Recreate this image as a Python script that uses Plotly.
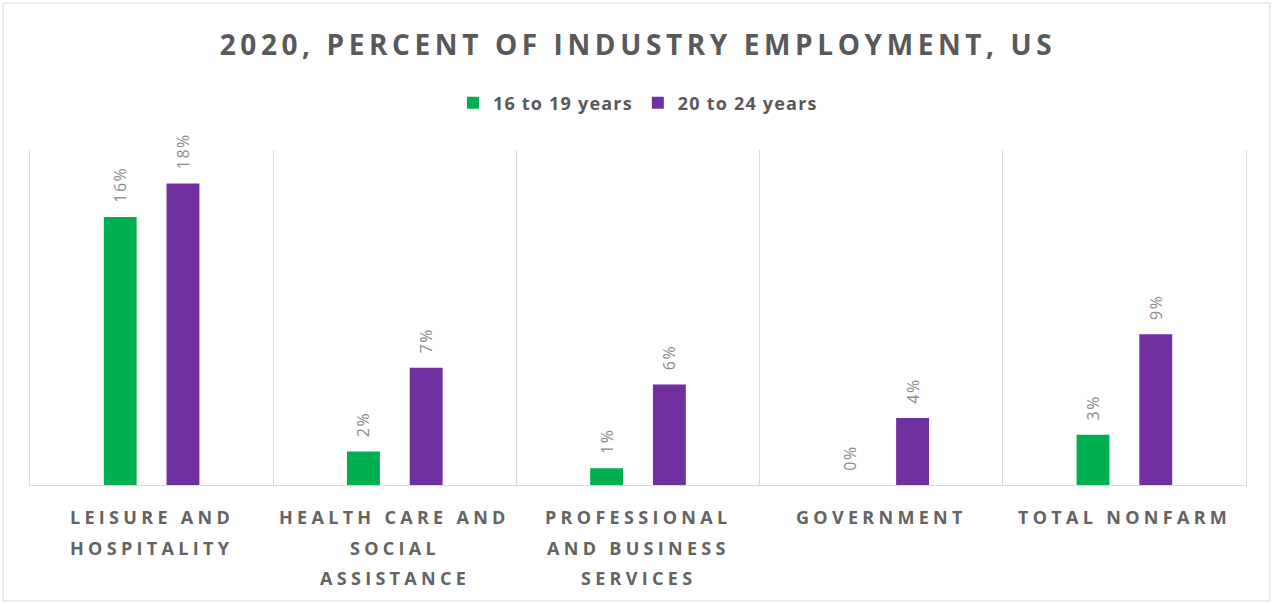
import plotly.graph_objects as go

categories = [
    "LEISURE AND\nHOSPITALITY",
    "HEALTH CARE AND\nSOCIAL\nASSISTANCE",
    "PROFESSIONAL\nAND BUSINESS\nSERVICES",
    "GOVERNMENT",
    "TOTAL NONFARM",
]
ages_16_19 = [16, 2, 1, 0, 3]
ages_20_24 = [18, 7, 6, 4, 9]
series_names = ["16 to 19 years", "20 to 24 years"]
series_colors = ["#00B050", "#7030A0"]
title_text = "2020, PERCENT OF INDUSTRY EMPLOYMENT, US"

W, H = 1273, 604
ML, MR, MT, MB = 30, 27, 150, 119
NBSP = "\u00a0"

fig = go.Figure()
for name, vals, col in zip(series_names, [ages_16_19, ages_20_24], series_colors):
    fig.add_trace(go.Bar(
        x=categories,
        y=vals,
        name=f'<span style="letter-spacing:1.2px"><b>{name}</b></span>',
        marker=dict(color=col, line=dict(width=0)),
        # rotated value labels, nudged a little away from the bar tops
        text=[f'<span style="letter-spacing:1.5px">{NBSP * 2}{v}%</span>' for v in vals],
        textposition="outside",
        textangle=-90,
        constraintext="none",
        cliponaxis=False,
        textfont=dict(family="Open Sans", size=16, color="#8c8c8c"),
    ))

# category labels, one annotation per line so the line spacing can be set
for cat in categories:
    for i, line in enumerate(cat.split("\n")):
        fig.add_annotation(
            x=cat, y=0, xref="x", yref="y",
            text=f'<span style="letter-spacing:4.3px">{line}</span>',
            showarrow=False,
            yanchor="middle",
            yshift=-32 - 30.5 * i,
            font=dict(family="Open Sans", size=18, color="#636363", weight="bold"),
        )

# thin frame around the whole chart
px = lambda p: (p - ML) / (W - ML - MR)
py = lambda p: 1 - (p - MT) / (H - MT - MB)
fig.add_shape(type="rect", xref="paper", yref="paper",
              x0=px(3), x1=px(W - 3), y0=py(H - 3), y1=py(3),
              line=dict(color="#d9d9d9", width=1), layer="below")

fig.update_layout(
    width=W, height=H,
    margin=dict(l=ML, r=MR, t=MT, b=MB),
    paper_bgcolor="white",
    plot_bgcolor="white",
    barmode="group",
    bargap=0.484,
    bargroupgap=0.476,
    title=dict(
        text=f'<span style="letter-spacing:4.6px">{title_text}</span>',
        x=0.5, xanchor="center", xref="paper",
        y=1 - 45 / H, yanchor="middle", yref="container",
        font=dict(family="Open Sans", size=28, color="#595959", weight="bold"),
    ),
    legend=dict(
        orientation="h",
        x=0.5, xanchor="center",
        y=1 - 103 / H, yanchor="middle", yref="container",
        font=dict(family="Open Sans", size=18, color="#595959"),
        itemwidth=30,
        traceorder="normal",
    ),
    xaxis=dict(
        type="category",
        tickson="boundaries",
        showgrid=True,
        gridcolor="#d9d9d9",
        gridwidth=1,
        showline=True,
        linecolor="#d9d9d9",
        linewidth=1,
        ticks="",
        showticklabels=False,
        range=[-0.5, 4.5],
        fixedrange=True,
    ),
    yaxis=dict(
        range=[0, 20],
        showgrid=False,
        zeroline=False,
        showline=True,
        mirror=True,
        linecolor="#d9d9d9",
        linewidth=1,
        showticklabels=False,
        ticks="",
        fixedrange=True,
    ),
    showlegend=True,
)

fig.write_html("out.html")
